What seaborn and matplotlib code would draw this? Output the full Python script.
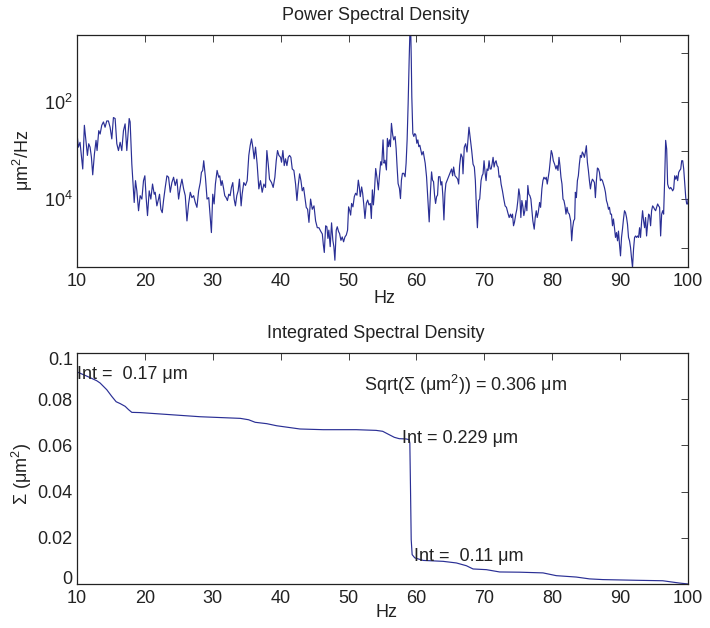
import numpy as np
import pandas as pd
import matplotlib
matplotlib.use("Agg")
import matplotlib.pyplot as plt
import matplotlib.transforms as mtransforms
import seaborn as sns
from matplotlib.ticker import NullLocator

# --- data ---
# power spectral density, frequency (Hz) and log10 of the value
psd_hz = [
    10.0, 10.2, 10.44, 10.59, 10.84, 11.08, 11.33, 11.53, 11.72, 11.92, 12.12, 12.31, 12.56, 12.80, 12.95,
    13.20, 13.40, 13.64, 13.89, 14.13, 14.38, 14.62, 14.87, 15.12, 15.36, 15.61, 15.86, 16.10, 16.35, 16.59,
    16.84, 17.08, 17.33, 17.68, 17.82, 18.07, 18.22, 18.42, 18.61, 18.81, 19.06, 19.30, 19.55, 19.79, 19.99,
    20.18, 20.38, 20.63, 20.87, 21.12, 21.37, 21.51, 21.76, 22.00, 22.15, 22.35, 22.55, 22.74, 22.99, 23.24,
    23.48, 23.73, 23.97, 24.22, 24.46, 24.71, 24.96, 25.20, 25.45, 25.70, 25.94, 26.19, 26.43, 26.68, 26.92,
    27.17, 27.42, 27.66, 27.91, 28.15,
    28.32, 28.51, 28.66, 28.91, 29.15, 29.40, 29.59, 29.79, 29.99, 30.19, 30.38, 30.63, 30.87, 31.02, 31.22,
    31.37, 31.56, 31.76, 31.96, 32.15, 32.35, 32.55, 32.74, 32.94, 33.14, 33.33, 33.53, 33.73, 33.92, 34.17,
    34.32, 34.56, 34.81, 35.06, 35.30, 35.50, 35.70, 35.89, 36.09, 36.29, 36.53, 36.78, 37.02, 37.27, 37.52,
    37.76, 37.96, 38.16, 38.35, 38.65, 38.89, 39.14, 39.34, 39.53, 39.73, 39.98, 40.12, 40.32, 40.52, 40.71,
    40.91, 41.11, 41.30, 41.50, 41.70, 41.94, 42.19, 42.39, 42.58, 42.78, 42.98, 43.17, 43.37, 43.57, 43.76,
    43.96, 44.16, 44.40, 44.65, 44.90, 45.14, 45.39, 45.63, 45.88, 46.13, 46.27, 46.42, 46.62,
    46.80, 46.95, 47.09, 47.29, 47.49, 47.68, 47.83, 47.98, 48.18, 48.33, 48.52, 48.67, 48.87, 49.06, 49.26,
    49.46, 49.66, 49.85, 50.00, 50.15, 50.30, 50.44, 50.64, 50.84, 51.03, 51.23, 51.43, 51.58, 51.72, 51.92,
    52.07, 52.22, 52.41, 52.61, 52.81, 53.00, 53.20, 53.35, 53.50, 53.65, 53.79, 53.99, 54.19, 54.38, 54.53,
    54.73, 54.88, 55.07, 55.22, 55.37, 55.57, 55.71, 55.86, 56.01, 56.16, 56.31, 56.50, 56.65, 56.85, 57.00,
    57.14, 57.29, 57.49, 57.64, 57.78, 57.93, 58.13, 58.32, 58.47, 58.62, 58.77, 58.92, 59.06, 59.14, 59.23,
    59.31, 59.46, 59.61, 59.75, 59.90, 60.05, 60.20, 60.34, 60.49, 60.64, 60.79, 60.99, 61.13, 61.28, 61.48,
    61.67, 61.87, 62.07, 62.22, 62.36, 62.51, 62.66, 62.81, 62.96, 63.10, 63.25, 63.45, 63.60, 63.74, 63.89,
    64.04, 64.19, 64.33, 64.53, 64.73, 64.93,
    65.17, 65.32, 65.47, 65.67, 65.86, 66.06, 66.21, 66.35, 66.55, 66.75, 66.85, 67.04, 67.24, 67.44, 67.59,
    67.73, 67.93, 68.13, 68.33, 68.52, 68.67, 68.82, 68.97, 69.16, 69.31, 69.51, 69.66, 69.80, 69.95, 70.10,
    70.25, 70.39, 70.54, 70.69, 70.84, 70.99, 71.13, 71.28, 71.43, 71.58, 71.72, 71.87, 72.02, 72.17, 72.32,
    72.46, 72.66, 72.86, 73.05, 73.25, 73.45, 73.65, 73.84, 73.99, 74.14, 74.29, 74.43, 74.63, 74.78, 74.93,
    75.07, 75.22, 75.37, 75.52, 75.66, 75.81, 75.96, 76.11, 76.26, 76.40, 76.55, 76.70, 76.85, 76.99, 77.14,
    77.34, 77.49, 77.64, 77.78, 77.93, 78.13, 78.28, 78.47, 78.62, 78.77, 78.97, 79.11, 79.26, 79.41, 79.56,
    79.70, 79.85, 80.00, 80.15, 80.34, 80.54, 80.69, 80.84, 80.99, 81.13, 81.28, 81.43, 81.58, 81.72, 81.87,
    82.02, 82.17, 82.32, 82.51, 82.71, 82.86, 83.00, 83.15, 83.30,
    83.40, 83.55, 83.70, 83.84, 83.99, 84.14, 84.29, 84.43, 84.58, 84.73, 84.88, 85.02, 85.17, 85.32, 85.47,
    85.62, 85.76, 85.91, 86.06, 86.21, 86.35, 86.50, 86.65, 86.80, 86.95, 87.09, 87.24, 87.39, 87.54, 87.68,
    87.83, 87.98, 88.13, 88.28, 88.42, 88.57, 88.72, 88.87, 89.01, 89.16, 89.31, 89.46, 89.61, 89.75, 89.90,
    90.05, 90.20, 90.34, 90.49, 90.64, 90.79, 90.94, 91.08, 91.23, 91.38, 91.53, 91.67, 91.82, 91.97, 92.12,
    92.27, 92.41, 92.56, 92.71, 92.86, 93.00, 93.15, 93.30, 93.45, 93.60, 93.74, 93.89, 94.04, 94.19, 94.33,
    94.48, 94.63, 94.78, 94.93, 95.07, 95.22, 95.37, 95.52, 95.66, 95.81, 95.96, 96.11, 96.26, 96.40, 96.55,
    96.70, 96.85, 96.99, 97.14, 97.29, 97.44, 97.59, 97.73, 97.88, 98.03, 98.18, 98.32, 98.47, 98.62, 98.77,
    98.92, 99.06, 99.21, 99.36, 99.51, 99.66, 99.80, 99.95, 100.0,
]
psd_log10 = [
    -2.66, -2.93, -2.83, -3.03, -3.38, -2.48, -2.83, -3.10, -2.86, -2.93, -3.14, -3.50, -3.07, -2.79, -3.00,
    -2.59, -2.66, -2.48, -2.41, -2.52, -2.39, -2.39, -2.52, -2.76, -2.32, -2.34, -2.86, -3.00, -2.83, -3.00,
    -2.59, -2.45, -3.00, -2.34, -2.41, -3.28, -3.62, -4.07, -3.62, -3.83, -4.24, -3.93, -4.00, -3.62, -3.52,
    -3.97, -4.34, -3.83, -4.00, -3.69, -3.90, -3.86, -4.14, -4.00, -3.90, -4.21, -4.28, -4.03, -3.76, -3.52,
    -3.55, -3.86, -3.66, -3.55, -3.72, -3.59, -4.00, -3.76, -3.59, -3.79, -3.93, -4.45, -4.10, -3.86, -3.97,
    -3.93, -4.07, -4.17, -3.83, -3.66,
    -3.45, -3.41, -3.21, -3.55, -4.00, -3.97, -4.31, -4.69, -3.90, -4.10, -3.69, -3.41, -3.55, -3.52, -3.72,
    -3.62, -3.76, -3.93, -3.97, -4.03, -3.90, -3.93, -3.76, -3.66, -4.00, -4.14, -3.93, -3.83, -3.59, -4.14,
    -3.90, -3.66, -3.72, -3.62, -3.10, -2.90, -2.76, -2.93, -3.17, -2.93, -3.28, -3.79, -3.62, -3.86, -3.69,
    -3.76, -3.00, -3.28, -3.59, -3.66, -3.76, -3.55, -3.21, -3.00, -3.10, -3.14, -3.24, -3.00, -3.31, -3.17,
    -3.31, -3.14, -3.10, -3.14, -3.38, -3.41, -3.69, -4.03, -3.72, -3.48, -3.62, -3.83, -3.76, -3.97, -4.17,
    -4.21, -4.48, -4.00, -4.21, -4.14, -4.45, -4.59, -4.59, -4.66, -4.72, -4.93, -5.10, -4.55,
    -4.57, -4.81, -4.64, -4.98, -4.49, -4.85, -4.98, -5.26, -4.64, -4.57, -4.67, -4.71, -4.85, -4.78, -4.88,
    -4.78, -4.74, -4.64, -4.16, -4.23, -4.33, -4.09, -4.16, -3.95, -3.88, -3.92, -3.61, -3.75, -3.95, -3.75,
    -3.88, -4.09, -4.40, -4.09, -4.02, -4.12, -4.09, -4.40, -3.81, -4.12, -3.88, -3.37, -3.57, -3.81, -3.54,
    -3.23, -3.30, -2.78, -3.26, -3.20, -3.40, -2.75, -2.92, -2.78, -2.92, -2.44, -2.68, -2.78, -2.71, -2.96,
    -3.33, -3.68, -3.78, -3.99, -3.61, -3.47, -3.47, -3.54, -3.26, -2.78, -2.03, -1.13, -0.40, -0.45, -1.10,
    -1.89, -2.65, -2.71, -2.65, -2.68, -2.85, -2.78, -2.92, -2.89, -2.99, -3.09, -3.02, -3.13, -3.26, -3.54,
    -3.99, -4.47, -3.81, -3.44, -3.61, -3.64, -3.92, -4.09, -3.95, -3.92, -3.54, -3.54, -3.71, -3.64, -3.95,
    -4.43, -3.88, -3.68, -3.61, -3.54, -3.47,
    -3.38, -3.52, -3.34, -3.52, -3.55, -3.59, -3.69, -3.31, -3.07, -3.14, -3.48, -2.93, -2.86, -3.03, -2.76,
    -2.52, -2.76, -3.00, -3.28, -3.34, -3.62, -4.17, -4.59, -4.03, -4.00, -3.62, -3.52, -3.48, -3.21, -3.45,
    -3.62, -3.38, -3.41, -3.21, -3.38, -3.38, -3.28, -3.14, -3.34, -3.24, -3.21, -3.31, -3.34, -3.55, -3.52,
    -3.69, -3.83, -4.00, -4.14, -4.17, -4.28, -4.38, -4.31, -4.38, -4.31, -4.55, -4.48, -4.31, -4.21, -4.03,
    -3.79, -3.93, -4.38, -4.03, -4.14, -4.34, -4.24, -4.03, -4.24, -3.72, -3.90, -3.93, -4.00, -4.21, -4.45,
    -4.62, -4.38, -4.24, -4.38, -4.28, -4.07, -4.17, -3.79, -3.62, -3.55, -3.59, -3.55, -3.69, -3.55, -3.41,
    -3.21, -3.00, -3.07, -3.21, -3.28, -3.38, -3.31, -3.41, -3.14, -3.31, -3.55, -3.69, -4.00, -4.03, -4.14,
    -4.31, -4.17, -4.28, -4.31, -4.45, -4.86, -4.59, -4.45, -4.41,
    -3.86, -3.97, -3.62, -3.52, -3.28, -3.10, -3.14, -3.03, -3.07, -3.14, -3.03, -2.90, -3.24, -3.41, -3.62,
    -3.79, -3.66, -3.59, -3.62, -3.66, -3.97, -3.62, -3.36, -3.38, -3.45, -3.62, -3.59, -3.62, -3.69, -3.76,
    -3.86, -4.03, -4.10, -4.21, -4.17, -4.31, -4.31, -4.55, -4.41, -4.59, -4.79, -4.69, -4.86, -4.66, -4.93,
    -5.17, -4.79, -4.62, -4.41, -4.24, -4.28, -4.38, -4.52, -4.79, -4.86, -5.00, -5.21, -5.41, -5.03, -4.79,
    -4.76, -4.79, -4.76, -4.79, -4.59, -4.79, -4.48, -4.24, -4.45, -4.59, -4.38, -4.76, -4.52, -4.31, -4.34,
    -4.55, -4.24, -4.14, -4.17, -4.21, -4.24, -4.17, -4.10, -4.14, -4.17, -4.76, -4.31, -4.24, -4.31, -3.62,
    -2.79, -2.97, -3.69, -3.76, -3.79, -3.76, -3.79, -3.83, -3.79, -3.52, -3.59, -3.52, -3.62, -3.45, -3.41,
    -3.38, -3.21, -3.21, -3.38, -3.69, -3.97, -4.10, -4.10, -4.00,
]

# integrated spectral density (cumulative from the high end)
isd_hz = [10.0, 11.43, 12.9, 13.4, 14.38, 15.12, 15.76, 16.35, 17.09, 17.58, 18.07, 19.3, 23.25, 28.17,
          34.05, 35.27, 36.24, 37.95, 39.41, 41.37, 42.83, 46.24, 51.12, 54.05, 55.02, 56.0, 56.73, 57.46,
          58.44, 58.92, 59.02, 59.12, 59.22, 59.36, 59.75, 60.98, 63.92, 65.88, 67.35, 68.33, 70.29, 72.25,
          75.2, 78.63, 80.59, 83.53, 85.49, 87.45, 92.35, 96.27, 97.25, 98.73, 100.0]
isd_um2 = [0.0918, 0.0900, 0.0880, 0.0870, 0.0841, 0.0812, 0.0789, 0.0781, 0.0769, 0.0755, 0.0743, 0.0742,
           0.0734, 0.0724, 0.0717, 0.0711, 0.0700, 0.0694, 0.0685, 0.0677, 0.0671, 0.0668, 0.0668, 0.0665,
           0.0661, 0.0646, 0.0635, 0.0629, 0.0628, 0.0625, 0.0610, 0.0408, 0.0192, 0.0127, 0.0113, 0.0102,
           0.0098, 0.0091, 0.0079, 0.0065, 0.0062, 0.0052, 0.0051, 0.0048, 0.0036, 0.0030, 0.0022, 0.0019,
           0.0016, 0.0014, 0.0010, 0.0004, 0.0]

x_ticks = [10, 20, 30, 40, 50, 60, 70, 80, 90, 100]
psd_yticks = [1e-5, 1e-4, 1e-3, 1e-2, 1e-1]
psd_yticklabels = ["", r"$\mathregular{10^{4}}$", "", r"$\mathregular{10^{2}}$", ""]
isd_yticks = [0, 0.02, 0.04, 0.06, 0.08, 0.1]
isd_yticklabels = ["0", "0.02", "0.04", "0.06", "0.08", "0.1"]

LINE = "#2a2f95"
FS = 13

sns.set_style("white")
plt.rcParams["font.family"] = ["Liberation Sans", "DejaVu Sans"]
plt.rcParams.update({
    "mathtext.fontset": "custom",
    "mathtext.rm": "Liberation Sans",
    "mathtext.it": "Liberation Sans:italic",
    "mathtext.bf": "Liberation Sans:bold",
    "xtick.direction": "in", "ytick.direction": "in",
    "xtick.top": True, "ytick.right": True,
    "xtick.major.size": 5, "ytick.major.size": 5,
    "xtick.major.width": 0.6, "ytick.major.width": 0.6,
    "xtick.color": "#222222", "ytick.color": "#222222",
    "axes.edgecolor": "#222222", "axes.linewidth": 0.9,
    "text.color": "#222222", "axes.labelcolor": "#222222",
})

psd_df = pd.DataFrame({"hz": psd_hz, "psd": 10.0 ** np.array(psd_log10)})
isd_df = pd.DataFrame({"hz": isd_hz, "isd": isd_um2})

fig = plt.figure(figsize=(7.1, 6.28), dpi=100)
ax1 = fig.add_axes([0.1085, 0.5748, 0.8606, 0.3694])
ax2 = fig.add_axes([0.1085, 0.0701, 0.8606, 0.3678])

# --- top: power spectral density ---
sns.lineplot(data=psd_df, x="hz", y="psd", ax=ax1, color=LINE, linewidth=0.85, estimator=None, sort=False)
ax1.set_yscale("log")
ax1.set_xlim(10, 100)
ax1.set_ylim(10 ** -5.40, 10 ** -0.62)
ax1.set_xticks(x_ticks)
ax1.set_xticklabels([str(t) for t in x_ticks], fontsize=FS)
ax1.set_yticks(psd_yticks)
ax1.set_yticklabels(psd_yticklabels, fontsize=FS)
ax1.yaxis.set_minor_locator(NullLocator())
ax1.tick_params(axis="x", pad=4)
ax1.tick_params(axis="y", pad=3)
ax1.set_title("Power Spectral Density", fontsize=FS, x=0.4885, pad=11)
ax1.set_xlabel("Hz", fontsize=FS)
ax1.set_ylabel("\u03bcm$^{2}$/Hz", fontsize=FS)
ax1.xaxis.set_label_coords(0.503, -0.10)
ax1.yaxis.set_label_coords(-0.069, 0.461)

# --- bottom: integrated spectral density ---
sns.lineplot(data=isd_df, x="hz", y="isd", ax=ax2, color=LINE, linewidth=0.85, estimator=None, sort=False)
ax2.set_xlim(10, 100)
ax2.set_ylim(0, 0.1)
ax2.set_xticks(x_ticks)
ax2.set_xticklabels([str(t) for t in x_ticks], fontsize=FS)
ax2.set_yticks(isd_yticks)
ax2.set_yticklabels(isd_yticklabels, fontsize=FS)
ax2.tick_params(axis="x", pad=4)
ax2.tick_params(axis="y", pad=3)
ax2.set_title("Integrated Spectral Density", fontsize=FS, x=0.4885, pad=11)
ax2.set_xlabel("Hz", fontsize=FS)
ax2.set_ylabel("\u03a3 (\u03bcm$^{2}$)", fontsize=FS)
ax2.xaxis.set_label_coords(0.507, -0.088)
ax2.yaxis.set_label_coords(-0.070, 0.478)

# end labels on the y axis sit inside the axis span, as in the reference
ylabels = ax2.get_yticklabels()
ylabels[0].set_transform(ylabels[0].get_transform() + mtransforms.ScaledTranslation(0, 6 / 100, fig.dpi_scale_trans))
ylabels[-1].set_transform(ylabels[-1].get_transform() + mtransforms.ScaledTranslation(0, -6 / 100, fig.dpi_scale_trans))

ax2.text(10, 0.0909, "Int =  0.17 \u03bcm", fontsize=FS, ha="left", va="center")
ax2.text(57.9, 0.0629, "Int = 0.229 \u03bcm", fontsize=FS, ha="left", va="center")
ax2.text(59.6, 0.0119, "Int =  0.11 \u03bcm", fontsize=FS, ha="left", va="center")
ax2.text(52.3, 0.0863, "Sqrt(\u03a3 (\u03bcm$^{2}$)) = 0.306 \u03bcm", fontsize=FS, ha="left", va="center")

for ax in (ax1, ax2):
    for s in ax.spines.values():
        s.set_visible(True)

fig.savefig("out.png", dpi=100)
